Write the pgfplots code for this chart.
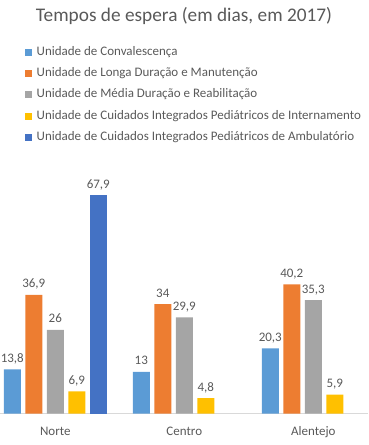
\documentclass[border=0pt]{standalone}
\usepackage{fontspec}
\setmainfont{Carlito}
\usepackage{pgfplots}
\pgfplotsset{compat=1.18}
\definecolor{c1}{HTML}{5B9BD5}
\definecolor{c2}{HTML}{ED7D31}
\definecolor{c3}{HTML}{A5A5A5}
\definecolor{c4}{HTML}{FFC000}
\definecolor{c5}{HTML}{4472C4}
\definecolor{txt}{HTML}{595959}
\definecolor{axl}{HTML}{D9D9D9}
\pgfplotsset{sq/.style={legend image code/.code={\fill[##1] (0pt,-3.5pt) rectangle (7pt,3.5pt);}}}
\begin{document}
\begin{tikzpicture}
\path[use as bounding box] (0,0) rectangle (368pt,445pt);
\begin{axis}[
  at={(0pt,31.3pt)}, anchor=south west,
  scale only axis, width=368pt, height=257.6pt,
  xmin=-0.4287, xmax=2.4240, ymin=0, ymax=80,
  ybar, bar width=17pt,
  axis x line*=bottom, axis y line=none,
  x axis line style={color=axl, line width=0.8pt},
  xtick={0,1,2}, xticklabels={Norte,Centro,Alentejo},
  xtick style={draw=none},
  xticklabel style={anchor=base, yshift=-18pt, font=\fontsize{13}{15}\selectfont, text=txt},
  nodes near coords,
  every node near coord/.append style={anchor=base, inner sep=0pt, yshift=7pt, font=\fontsize{13}{15}\selectfont, text=txt},
  /pgf/number format/assume math mode=true,
  /pgf/number format/use comma,
  title={Tempos de espera (em dias, em 2017)},
  title style={at={(axis description cs:0.5,1.5217)}, anchor=center, font=\fontsize{19.3}{22}\selectfont, text=txt},
  legend style={at={(axis description cs:0.0679,1.428)}, anchor=north west, draw=none, fill=none,
    font=\fontsize{13}{15}\selectfont, text=txt, row sep=9.1pt, inner sep=0pt,
    nodes={inner sep=0pt, text height=9.2pt, text depth=3pt},
    /tikz/every odd column/.append style={column sep=4.5pt}},
  legend cell align=left,
  clip=false,
]
\addplot[sq, fill=c1, draw=none, bar shift=-43pt] coordinates {(0,13.8) (1,13) (2,20.3)};
\addplot[sq, fill=c2, draw=none, bar shift=-21.5pt] coordinates {(0,36.9) (1,34) (2,40.2)};
\addplot[sq, fill=c3, draw=none, bar shift=0pt] coordinates {(0,26) (1,29.9) (2,35.3)};
\addplot[sq, fill=c4, draw=none, bar shift=21.5pt] coordinates {(0,6.9) (1,4.8) (2,5.9)};
\addplot[sq, fill=c5, draw=none, bar shift=43pt] coordinates {(0,67.9)};
\legend{Unidade de Convalescença, Unidade de Longa Duração e Manutenção, Unidade de Média Duração e Reabilitação, Unidade de Cuidados Integrados Pediátricos de Internamento, Unidade de Cuidados Integrados Pediátricos de Ambulatório}
\end{axis}
\end{tikzpicture}
\end{document}
